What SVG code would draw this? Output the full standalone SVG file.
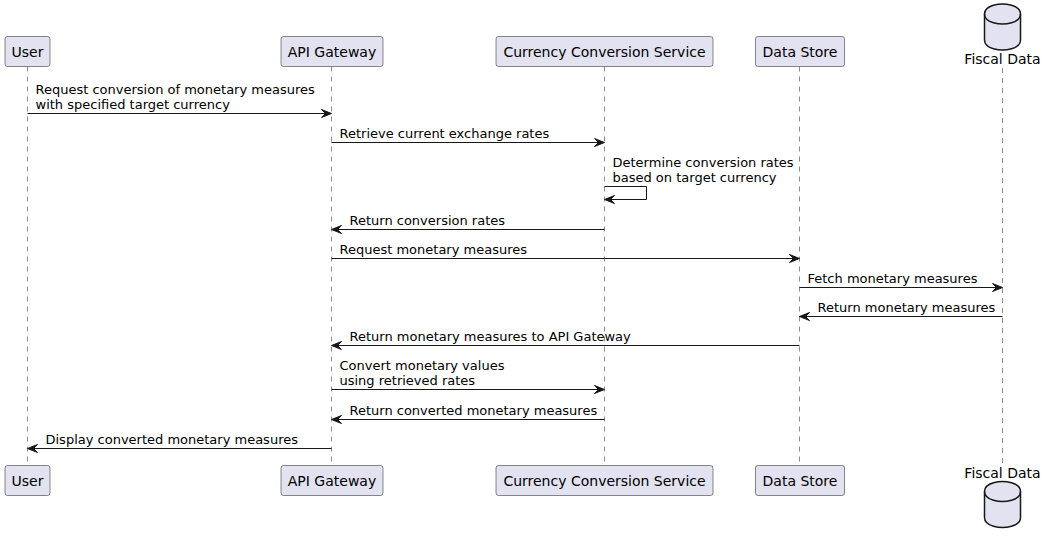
<svg xmlns="http://www.w3.org/2000/svg" width="1044" height="543" viewBox="0 0 1044 543">
<style>
.bg{fill:#FFFFFF}
.part rect{fill:#E2E2F0;stroke:#181818;stroke-width:0.5}
.db path{fill:#E2E2F0;stroke:#181818;stroke-width:1.5}
.db path.rim{fill:none}
.pt{font-family:"DejaVu Sans","Noto Sans",sans-serif;font-size:14px;fill:#000000;text-anchor:middle}
.life{stroke:#181818;stroke-width:0.5;stroke-dasharray:5,5}
.msg{stroke:#181818;stroke-width:1;fill:none}
.head{fill:#181818;stroke:#181818;stroke-width:1}
.mt{font-family:"DejaVu Sans","Noto Sans",sans-serif;font-size:13px;fill:#000000}
</style>
<rect class="bg" x="0" y="0" width="1044" height="543"/>
<g id="lifelines">
<line class="life" x1="27.5" y1="66.5" x2="27.5" y2="465.5"/>
<line class="life" x1="331.5" y1="66.5" x2="331.5" y2="465.5"/>
<line class="life" x1="604.5" y1="66.5" x2="604.5" y2="465.5"/>
<line class="life" x1="799.5" y1="66.5" x2="799.5" y2="465.5"/>
<line class="life" x1="1002.5" y1="68" x2="1002.5" y2="465.5"/>
</g>
<g id="user" class="part">
<rect x="5" y="36.5" width="45" height="30" rx="2.5"/>
<text class="pt" x="27.5" y="56.5">User</text>
<rect x="5" y="465.5" width="45" height="30" rx="2.5"/>
<text class="pt" x="27.5" y="485.5">User</text>
</g>
<g id="api" class="part">
<rect x="281" y="36.5" width="102" height="30" rx="2.5"/>
<text class="pt" x="332" y="56.5">API Gateway</text>
<rect x="281" y="465.5" width="102" height="30" rx="2.5"/>
<text class="pt" x="332" y="485.5">API Gateway</text>
</g>
<g id="ccs" class="part">
<rect x="496" y="36.5" width="217" height="30" rx="2.5"/>
<text class="pt" x="604.5" y="56.5">Currency Conversion Service</text>
<rect x="496" y="465.5" width="217" height="30" rx="2.5"/>
<text class="pt" x="604.5" y="485.5">Currency Conversion Service</text>
</g>
<g id="ds" class="part">
<rect x="755.5" y="36.5" width="89" height="30" rx="2.5"/>
<text class="pt" x="800" y="56.5">Data Store</text>
<rect x="755.5" y="465.5" width="89" height="30" rx="2.5"/>
<text class="pt" x="800" y="485.5">Data Store</text>
</g>
<g id="fiscal" class="db">
<path d="M984.5,14 C984.5,4 1002.5,4 1002.5,4 C1002.5,4 1020.5,4 1020.5,14 L1020.5,40 C1020.5,50 1002.5,50 1002.5,50 C1002.5,50 984.5,50 984.5,40 Z"/>
<path class="rim" d="M984.5,14 C984.5,24 1002.5,24 1002.5,24 C1002.5,24 1020.5,24 1020.5,14"/>
<text class="pt" x="1002.5" y="63.5">Fiscal Data</text>
<text class="pt" x="1002.5" y="477.5">Fiscal Data</text>
<path d="M984.5,491.5 C984.5,481.5 1002.5,481.5 1002.5,481.5 C1002.5,481.5 1020.5,481.5 1020.5,491.5 L1020.5,517.5 C1020.5,527.5 1002.5,527.5 1002.5,527.5 C1002.5,527.5 984.5,527.5 984.5,517.5 Z"/>
<path class="rim" d="M984.5,491.5 C984.5,501.5 1002.5,501.5 1002.5,501.5 C1002.5,501.5 1020.5,501.5 1020.5,491.5"/>
</g>
<g id="connectors">
<line class="msg" x1="27.5" y1="113.5" x2="327.5" y2="113.5"/>
<polygon class="head" points="321.5,109.5 331.5,113.5 321.5,117.5 325.5,113.5"/>
<text class="mt" x="35.5" y="93.5">Request conversion of monetary measures</text>
<text class="mt" x="35.5" y="108.5">with specified target currency</text>

<line class="msg" x1="331.5" y1="142.5" x2="600.5" y2="142.5"/>
<polygon class="head" points="594.5,138.5 604.5,142.5 594.5,146.5 598.5,142.5"/>
<text class="mt" x="339.5" y="137.5">Retrieve current exchange rates</text>

<polyline class="msg" points="604.5,186.5 646.5,186.5 646.5,199.5 608.5,199.5"/>
<polygon class="head" points="614.5,195.5 604.5,199.5 614.5,203.5 610.5,199.5"/>
<text class="mt" x="612.5" y="166.5">Determine conversion rates</text>
<text class="mt" x="612.5" y="181.5">based on target currency</text>

<line class="msg" x1="335.5" y1="229.5" x2="604.5" y2="229.5"/>
<polygon class="head" points="341.5,225.5 331.5,229.5 341.5,233.5 337.5,229.5"/>
<text class="mt" x="349.5" y="224.5">Return conversion rates</text>

<line class="msg" x1="331.5" y1="258.5" x2="795.5" y2="258.5"/>
<polygon class="head" points="789.5,254.5 799.5,258.5 789.5,262.5 793.5,258.5"/>
<text class="mt" x="339.5" y="253.5">Request monetary measures</text>

<line class="msg" x1="799.5" y1="287.5" x2="998.5" y2="287.5"/>
<polygon class="head" points="992.5,283.5 1002.5,287.5 992.5,291.5 996.5,287.5"/>
<text class="mt" x="807.5" y="282.5">Fetch monetary measures</text>

<line class="msg" x1="803.5" y1="316.5" x2="1002.5" y2="316.5"/>
<polygon class="head" points="809.5,312.5 799.5,316.5 809.5,320.5 805.5,316.5"/>
<text class="mt" x="817.5" y="311.5">Return monetary measures</text>

<line class="msg" x1="335.5" y1="345.5" x2="799.5" y2="345.5"/>
<polygon class="head" points="341.5,341.5 331.5,345.5 341.5,349.5 337.5,345.5"/>
<text class="mt" x="349.5" y="340.5">Return monetary measures to API Gateway</text>

<line class="msg" x1="331.5" y1="389.5" x2="600.5" y2="389.5"/>
<polygon class="head" points="594.5,385.5 604.5,389.5 594.5,393.5 598.5,389.5"/>
<text class="mt" x="339.5" y="369.5">Convert monetary values</text>
<text class="mt" x="339.5" y="384.5">using retrieved rates</text>

<line class="msg" x1="335.5" y1="419.5" x2="604.5" y2="419.5"/>
<polygon class="head" points="341.5,415.5 331.5,419.5 341.5,423.5 337.5,419.5"/>
<text class="mt" x="349.5" y="414.5">Return converted monetary measures</text>

<line class="msg" x1="31.5" y1="448.5" x2="331.5" y2="448.5"/>
<polygon class="head" points="37.5,444.5 27.5,448.5 37.5,452.5 33.5,448.5"/>
<text class="mt" x="45.5" y="443.5">Display converted monetary measures</text>
</g>
</svg>
